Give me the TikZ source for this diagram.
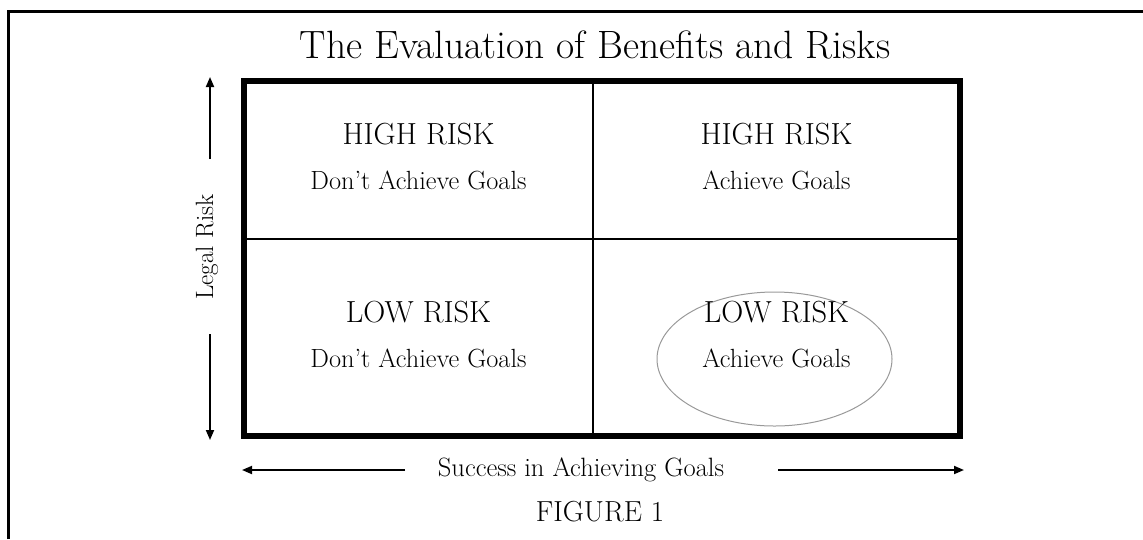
\documentclass[tikz,border=0pt]{standalone}
\usetikzlibrary{arrows.meta}
\begin{document}
\begin{tikzpicture}[x=1pt,y=-1pt,
  frame/.style={line width=3pt},
  grid box/.style={line width=6pt},
  divider/.style={line width=1.3pt},
  axis/.style={line width=1.8pt,-{Triangle[length=10pt,width=8pt]}},
  risk/.style={font=\fontsize{30.5}{34}\selectfont,anchor=base,inner sep=0pt},
  goal/.style={font=\fontsize{26.3}{30}\selectfont,anchor=base,inner sep=0pt},
  axislabel/.style={font=\fontsize{26.5}{30}\selectfont,inner sep=0pt}]
\useasboundingbox (0,0) rectangle (1143,539);
% outer frame (top and left)
\draw[frame] (8.5,539) -- (8.5,11) -- (1143,11);
% title
\node[font=\fontsize{39.5}{44}\selectfont,anchor=base,inner sep=0pt] (title) at (595,58) {The Evaluation of Benefits and Risks};
% matrix
\coordinate (tl) at (244,81);
\coordinate (br) at (960,436);
\draw[grid box] (tl) rectangle (br);
\coordinate (vt) at (593,81);
\coordinate (vb) at (593,436);
\coordinate (hl) at (244,239);
\coordinate (hr) at (960,239);
\draw[divider] (vt) -- (vb);
\draw[divider] (hl) -- (hr);
% highlight ellipse
\draw[gray!80,line width=1pt] (774.5,359) ellipse [x radius=117.5, y radius=67];
% cell texts
\node[risk] (hl1) at (418.5,144) {HIGH RISK};
\node[goal] (hl2) at (418.5,189) {Don't Achieve Goals};
\node[risk] (hr1) at (776.5,144) {HIGH RISK};
\node[goal] (hr2) at (776.5,189) {Achieve Goals};
\node[risk] (ll1) at (418.5,322) {LOW RISK};
\node[goal] (ll2) at (418.5,367) {Don't Achieve Goals};
\node[risk] (lr1) at (776.5,322) {LOW RISK};
\node[goal] (lr2) at (776.5,367) {Achieve Goals};
% vertical axis
\node[axislabel,font=\fontsize{25}{28}\selectfont,rotate=90] (legal) at (207,247) {Legal Risk};
\coordinate (vup0) at (210,159);
\coordinate (vup1) at (210,77);
\coordinate (vdn0) at (210,334);
\coordinate (vdn1) at (210,440);
\draw[axis] (vup0) -- (vup1);
\draw[axis] (vdn0) -- (vdn1);
% horizontal axis
\node[axislabel,anchor=base] (success) at (581,476) {Success in Achieving Goals};
\coordinate (hl0) at (405,470);
\coordinate (hl1c) at (242,470);
\coordinate (hr0) at (778,470);
\coordinate (hr1c) at (964,470);
\draw[axis] (hl0) -- (hl1c);
\draw[axis] (hr0) -- (hr1c);
% caption
\node[font=\fontsize{29}{33}\selectfont,anchor=base,inner sep=0pt] (fig) at (600,521) {FIGURE 1};
\end{tikzpicture}
\end{document}
